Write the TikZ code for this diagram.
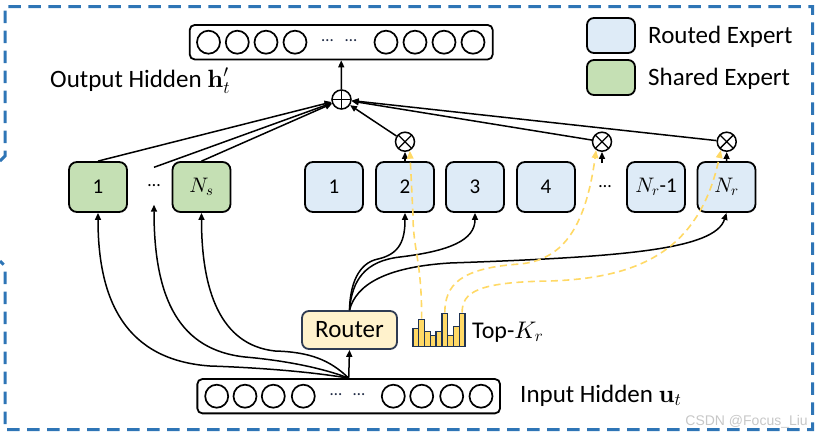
\documentclass[tikz,border=0pt]{standalone}
\usepackage[no-math]{fontspec}
\setmainfont{Carlito}
\newfontfamily\wmfont{Liberation Sans}
\DeclareFontShape{OML}{cmm}{m}{it}{<->cmmi10}{}
\DeclareFontShape{OML}{cmm}{b}{it}{<->cmmib10}{}
\DeclareFontShape{OT1}{cmr}{bx}{n}{<->cmbx10}{}
\DeclareFontShape{OT1}{cmr}{m}{n}{<->cmr10}{}
\DeclareFontShape{OMS}{cmsy}{m}{n}{<->cmsy10}{}
\usetikzlibrary{arrows.meta}
\definecolor{frameblue}{HTML}{2E75B6}
\definecolor{routedfill}{HTML}{DEEBF7}
\definecolor{sharedfill}{HTML}{C5E0B4}
\definecolor{routerfill}{HTML}{FFF2CC}
\definecolor{routerdraw}{HTML}{2F3B52}
\definecolor{baryellow}{HTML}{FFD966}
\definecolor{bardraw}{HTML}{1F3354}
\definecolor{dashyellow}{HTML}{FFD966}
\definecolor{dotnavy}{HTML}{1F2A44}
\newcommand{\bigfont}{\fontsize{25}{30}\selectfont}
\newcommand{\boxfont}{\fontsize{21}{25}\selectfont}
\begin{document}
\begin{tikzpicture}[x=1pt,y=-1pt,
  expert/.style={draw, line width=1.8pt, rounded corners=8pt, minimum width=58pt, minimum height=50pt, inner sep=0pt, execute at begin node=\boxfont},
  legbox/.style={draw, line width=1.8pt, rounded corners=7pt, minimum width=48pt, minimum height=35pt, inner sep=0pt},
  unitcircle/.style={circle, draw, line width=1.7pt, minimum size=23pt, inner sep=0pt},
  hbar/.style={draw, line width=1.8pt, rounded corners=5pt, inner sep=0pt},
  ellip/.style={inner sep=0pt, text=dotnavy, font=\fontsize{17}{20}\selectfont},
  opcircle/.style={circle, draw, line width=1.5pt, minimum size=19pt, inner sep=0pt},
  plussign/.style={path picture={\draw[line width=1.3pt] (path picture bounding box.north) -- (path picture bounding box.south) (path picture bounding box.west) -- (path picture bounding box.east);}},
  timessign/.style={path picture={\draw[line width=1.3pt] (path picture bounding box.north west) -- (path picture bounding box.south east) (path picture bounding box.north east) -- (path picture bounding box.south west);}},
  arr/.style={line width=1.5pt, -{Triangle[length=7pt,width=6pt]}},
  yarr/.style={dashyellow, line width=1.6pt, dash pattern=on 7pt off 4.5pt, -{Triangle[length=8pt,width=6.5pt]}},
  barsty/.style={draw=bardraw, fill=baryellow, line width=1.4pt, minimum width=5.78pt, inner sep=0pt},
  lbl/.style={anchor=base west, font=\bigfont, inner sep=0pt}
]
\useasboundingbox (0,0) rectangle (820,434);
% frame
\draw[frameblue, line width=3pt, dash pattern=on 12.5pt off 7.5pt] (0,161) -- (5,156) -- (5,6.5) -- (812.5,6.5) -- (812.5,429.5) -- (5,429.5) -- (5,266) -- (0,261);

% output hidden bar
\node[hbar, minimum width=303pt, minimum height=34.5pt] (outbar) at (341.2,42.2) {};
\foreach \x [count=\k] in {208.5,237.3,266,295,386,415,444,473}
  \node[unitcircle] (oc\k) at (\x,42.2) {};
\node[ellip] (od1) at (327.5,41) {…};
\node[ellip] (od2) at (351,41) {…};
\node[lbl] (outlbl) at (50,87) {Output Hidden $\mathbf{h}'_t$};

% input hidden bar
\node[hbar, minimum width=302.7pt, minimum height=34.3pt] (inbar) at (348.7,396.2) {};
\foreach \x [count=\k] in {216.7,245,273.3,303.3,393.3,421.7,451.7,481}
  \node[unitcircle] (ic\k) at (\x,396.2) {};
\node[ellip] (id1) at (336,395) {…};
\node[ellip] (id2) at (359,395) {…};
\node[lbl] (inlbl) at (520,402) {Input Hidden $\mathbf{u}_t$};

% legend
\node[legbox, fill=routedfill] (legR) at (611,35.5) {};
\node[legbox, fill=sharedfill] (legS) at (611,77.5) {};
\node[lbl] (legRt) at (648,43) {Routed Expert};
\node[lbl] (legSt) at (648,85) {Shared Expert};

% shared experts
\node[expert, fill=sharedfill] (s1) at (98,187) {1};
\node[ellip, text=black, minimum height=37pt, font=\fontsize{18}{21}\selectfont] (sd) at (154,186) {…};
\node[expert, fill=sharedfill] (ns) at (201.5,187) {$N_s$};

% routed experts
\node[expert, fill=routedfill] (r1) at (334,187) {1};
\node[expert, fill=routedfill] (r2) at (405,187) {2};
\node[expert, fill=routedfill] (r3) at (475,187) {3};
\node[expert, fill=routedfill] (r4) at (546,187) {4};
\node[ellip, text=black, font=\fontsize{18}{21}\selectfont] (rd) at (605,187) {…};
\node[expert, fill=routedfill] (rm) at (656,187) {$N_r$-1};
\node[expert, fill=routedfill] (rN) at (726.5,187) {$N_r$};

% operators
\node[opcircle, plussign] (plus) at (341.5,99.5) {};
\node[opcircle, timessign] (o2) at (405,141.7) {};
\node[opcircle, timessign] (o3) at (602,141.7) {};
\node[opcircle, timessign] (oN) at (726.7,141.7) {};
\coordinate (o3in) at (602,163);

% router
\node[draw=routerdraw, fill=routerfill, line width=1.8pt, rounded corners=7pt, minimum width=95pt, minimum height=38pt, inner sep=0pt, font=\bigfont] (router) at (349.5,330) {Router};

% top-k bars
\foreach \i/\h in {1/18,2/27,3/15,4/11,5/15,6/33,7/11,8/20,9/33}
  \node[barsty, minimum height=\h pt, anchor=south] (bar\i) at ({413+5.78*(\i-0.5)},347) {};
\node[lbl, font=\fontsize{24}{28}\selectfont] (topk) at (472,338) {Top-$K_r$};

% connectors to sum
\draw[arr] (s1.north) -- (plus);
\draw[arr] (sd.north) -- (plus);
\draw[arr] (ns.north) -- (plus);
\draw[arr] (o2) -- (plus);
\draw[arr] (o3) -- (plus);
\draw[arr] (oN) -- (plus);
\draw[arr] (plus) -- (outbar.south);
\draw[arr] (r2.north) -- (o2.south);
\draw[arr] (o3in) -- (o3.south);
\draw[arr] (rN.north) -- (oN.south);

% input to experts
\draw[arr] (inbar.north) -- (router.south);
\draw[arr] (inbar.north) .. controls (300,370) and (240,367) .. (210,366) .. controls (125,360) and (98,300) .. (s1.south);
\draw[arr] (inbar.north) .. controls (320,367) and (280,360) .. (245,357) .. controls (180,350) and (154,300) .. (sd.south);
\draw[arr] (inbar.north) .. controls (330,360) and (310,352) .. (275,351) .. controls (220,345) and (201.5,290) .. (ns.south);

% router to routed experts
\draw[arr] (router.north) .. controls (350,285) and (358,263) .. (378,259) .. controls (400,254) and (405,240) .. (r2.south);
\draw[arr] (router.north) .. controls (352,280) and (365,261) .. (400,257) .. controls (450,251) and (475,240) .. (r3.south);
\draw[arr] (router.north) .. controls (356,285) and (385,267) .. (450,263) .. controls (620,257) and (715,250) .. (rN.south);

% gating (dashed)
\draw[yarr] (bar2.north) .. controls (421.7,260) and (413,250) .. (413,215) -- (o2.-62);
\draw[yarr] (bar6.north) .. controls (445,285) and (460,268) .. (520,264) .. controls (560,260) and (585,232) .. (o3.-125);
\draw[yarr] (bar9.north) .. controls (462,292) and (478,282) .. (550,281) .. controls (640,278) and (700,250) .. (oN.-125);

% watermark
\node[anchor=base east, text=black!22, font=\wmfont\fontsize{14}{16}\selectfont, inner sep=0pt] (wm) at (808,425) {CSDN @Focus\_Liu};
\end{tikzpicture}
\end{document}
